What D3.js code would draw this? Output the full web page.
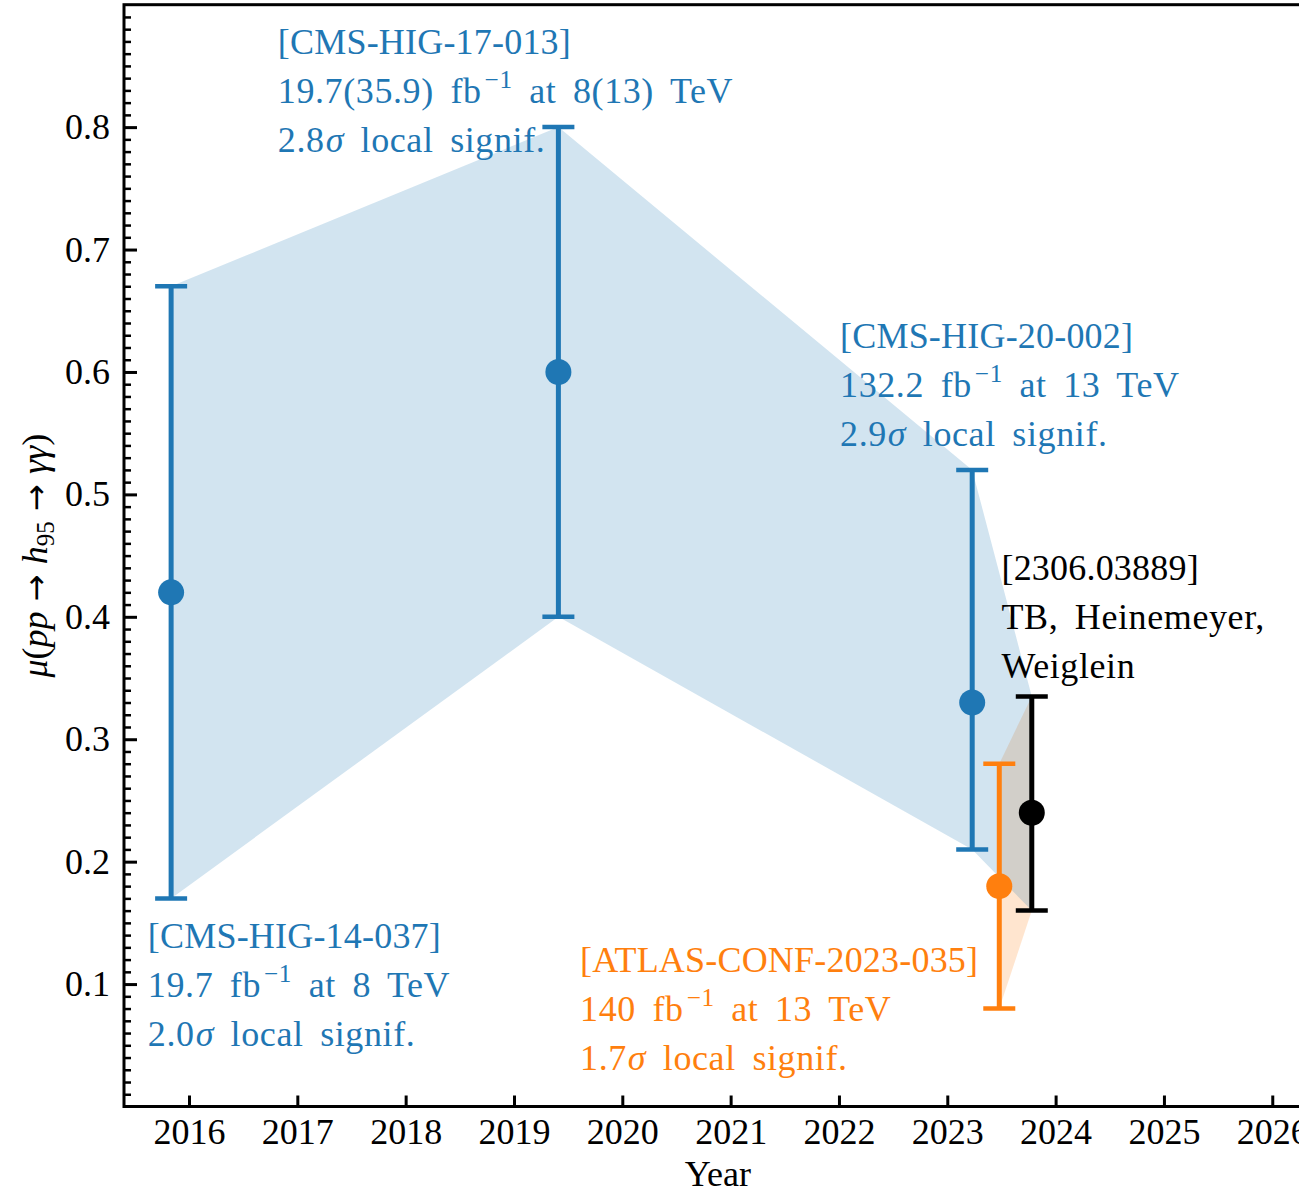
<!DOCTYPE html>
<html>
<head>
<meta charset="utf-8">
<script src="https://cdn.jsdelivr.net/npm/d3@7"></script>
<style>
  html, body { margin: 0; padding: 0; background: #fff; }
  svg { display: block; }
  text { font-family: "Liberation Serif", "DejaVu Serif", serif; }
</style>
</head>
<body>
<script>
// Measurements of the 95 GeV diphoton excess, signal strength vs. publication date
const labels   = ["CMS-HIG-14-037", "CMS-HIG-17-013", "CMS-HIG-20-002", "ATLAS-CONF-2023-035", "2306.03889"];
const years    = [2015.835, 2019.41, 2023.23, 2023.48, 2023.78];
const mu       = [0.42, 0.60, 0.33, 0.18, 0.24];
const muLow    = [0.17, 0.40, 0.21, 0.08, 0.16];
const muHigh   = [0.67, 0.80, 0.52, 0.28, 0.335];
const colors   = ["#1f77b4", "#1f77b4", "#1f77b4", "#ff7f0e", "#000000"];

// Shaded envelopes connecting the error bars (indices into the arrays above)
const blueBand   = [0, 1, 2, 4];
const orangeBand = [3, 4];

// Axis ticks
const xTicks      = [2016, 2017, 2018, 2019, 2020, 2021, 2022, 2023, 2024, 2025, 2026];
const yMajorTicks = [0.1, 0.2, 0.3, 0.4, 0.5, 0.6, 0.7, 0.8];
const yMinorTicks = d3.range(1, 90).filter(i => i % 10 !== 0).map(i => i / 100);

// Text annotations: anchor (year, value of first baseline) and lines.
// "^{..}" is a superscript, "σ" is set in italics.
const noteYears  = [2015.62, 2016.82, 2022.01, 2019.61, 2023.50];
const noteValues = [0.1295, 0.860, 0.6197, 0.1100, 0.4300];
const noteLines  = [
  ["[CMS-HIG-14-037]", "19.7 fb^{−1} at 8 TeV", "2.0σ local signif."],
  ["[CMS-HIG-17-013]", "19.7(35.9) fb^{−1} at 8(13) TeV", "2.8σ local signif."],
  ["[CMS-HIG-20-002]", "132.2 fb^{−1} at 13 TeV", "2.9σ local signif."],
  ["[ATLAS-CONF-2023-035]", "140 fb^{−1} at 13 TeV", "1.7σ local signif."],
  ["[2306.03889]", "TB, Heinemeyer,", "Weiglein"]
];
const noteColors = ["#1f77b4", "#1f77b4", "#1f77b4", "#ff7f0e", "#000000"];

const W = 1299, H = 1195;
const svg = d3.select("body").append("svg").attr("width", W).attr("height", H);

const x = d3.scaleLinear().domain([2015.4, 2026.4]).range([124, 1315.6]);
const y = d3.scaleLinear().domain([0, 0.9]).range([1106.5, 4.7]);

// --- bands ---
const area = d3.area()
  .x(i => x(years[i]))
  .y0(i => y(muLow[i]))
  .y1(i => y(muHigh[i]));

svg.append("path").attr("d", area(orangeBand))
  .attr("fill", "#ff7f0e").attr("fill-opacity", 0.2);
svg.append("path").attr("d", area(blueBand))
  .attr("fill", "#1f77b4").attr("fill-opacity", 0.2);

// --- error bars and markers ---
const capHalf = 16;
const pts = svg.append("g").selectAll("g").data(d3.range(years.length)).join("g")
  .attr("stroke", i => colors[i]).attr("fill", i => colors[i]);
pts.append("line")
  .attr("x1", i => x(years[i])).attr("x2", i => x(years[i]))
  .attr("y1", i => y(muLow[i])).attr("y2", i => y(muHigh[i]))
  .attr("stroke-width", 5);
pts.append("line")
  .attr("x1", i => x(years[i]) - capHalf).attr("x2", i => x(years[i]) + capHalf)
  .attr("y1", i => y(muLow[i])).attr("y2", i => y(muLow[i]))
  .attr("stroke-width", 4.5);
pts.append("line")
  .attr("x1", i => x(years[i]) - capHalf).attr("x2", i => x(years[i]) + capHalf)
  .attr("y1", i => y(muHigh[i])).attr("y2", i => y(muHigh[i]))
  .attr("stroke-width", 4.5);
pts.append("circle")
  .attr("cx", i => x(years[i])).attr("cy", i => y(mu[i])).attr("r", 13)
  .attr("stroke", "none");

// --- rich text helper ---
function writeRich(textSel, str, size) {
  const re = /(\^\{[^}]*\})|(σ)/g;
  let last = 0, m;
  const parts = [];
  while ((m = re.exec(str)) !== null) {
    if (m.index > last) parts.push({t: str.slice(last, m.index), k: "n"});
    if (m[1]) parts.push({t: m[1].slice(2, -1), k: "sup"});
    else parts.push({t: "σ", k: "it"});
    last = re.lastIndex;
  }
  if (last < str.length) parts.push({t: str.slice(last), k: "n"});
  let shifted = false;
  parts.forEach(p => {
    const ts = textSel.append("tspan").text(p.t);
    if (p.k === "sup") {
      ts.attr("font-size", size * 0.7).attr("dy", -size * 0.42).attr("dx", 3);
      shifted = true;
    } else {
      if (shifted) { ts.attr("dy", size * 0.42); shifted = false; }
      if (p.k === "it") ts.attr("font-style", "italic").attr("dx", 1);
    }
  });
}

// --- annotations ---
const fs = 36, lineGap = 49;
noteLines.forEach((lines, k) => {
  const g = svg.append("g").attr("fill", noteColors[k]);
  lines.forEach((ln, j) => {
    const t = g.append("text")
      .attr("x", x(noteYears[k]))
      .attr("y", y(noteValues[k]) + j * lineGap)
      .attr("font-size", fs)
      .attr("word-spacing", 7)
      .attr("letter-spacing", j === 0 ? 0.2 : 0.6)
      .style("white-space", "pre");
    writeRich(t, ln, fs);
  });
});

// --- axes ---
const xAxis = d3.axisBottom(x).tickValues(xTicks).tickFormat(d3.format("d"))
  .tickSizeInner(-11).tickSizeOuter(0).tickPadding(12);
const gx = svg.append("g").attr("transform", `translate(0,${y(0)})`).call(xAxis);
gx.select(".domain").remove();
gx.selectAll(".tick line").attr("stroke", "#000").attr("stroke-width", 3);
gx.selectAll(".tick text").attr("font-size", 36).attr("fill", "#000")
  .attr("font-family", "Liberation Serif, DejaVu Serif, serif");

const yAxis = d3.axisLeft(y).tickValues(yMajorTicks).tickFormat(d3.format(".1f"))
  .tickSizeInner(-13).tickSizeOuter(0).tickPadding(14);
const gy = svg.append("g").attr("transform", `translate(${x(2015.4)},0)`).call(yAxis);
gy.select(".domain").remove();
gy.selectAll(".tick line").attr("stroke", "#000").attr("stroke-width", 3);
gy.selectAll(".tick text").attr("font-size", 36).attr("fill", "#000")
  .attr("font-family", "Liberation Serif, DejaVu Serif, serif");

const yMinor = d3.axisLeft(y).tickValues(yMinorTicks).tickFormat("")
  .tickSizeInner(-7).tickSizeOuter(0);
const gym = svg.append("g").attr("transform", `translate(${x(2015.4)},0)`).call(yMinor);
gym.select(".domain").remove();
gym.selectAll(".tick line").attr("stroke", "#000").attr("stroke-width", 2.5);

// plot frame
svg.append("rect")
  .attr("x", x(2015.4)).attr("y", y(0.9))
  .attr("width", x(2026.4) - x(2015.4)).attr("height", y(0) - y(0.9))
  .attr("fill", "none").attr("stroke", "#000").attr("stroke-width", 3);

// axis titles
svg.append("text")
  .attr("x", (x(2015.4) + x(2026.4)) / 2 - 2).attr("y", 1186)
  .attr("text-anchor", "middle").attr("font-size", 36).attr("fill", "#000")
  .text("Year");

const yl = svg.append("text")
  .attr("transform", `translate(47,${(y(0) + y(0.9)) / 2}) rotate(-90)`)
  .attr("text-anchor", "middle").attr("font-size", 36).attr("fill", "#000");
const arrowFont = "DejaVu Sans, sans-serif";
yl.append("tspan").attr("font-style", "italic").text("μ");
yl.append("tspan").text("(");
yl.append("tspan").attr("font-style", "italic").text("pp");
yl.append("tspan").attr("font-family", arrowFont).attr("font-size", 32).text(" → ");
yl.append("tspan").attr("font-style", "italic").text("h");
yl.append("tspan").attr("font-size", 25).attr("dy", 7).text("95");
yl.append("tspan").attr("dy", -7).attr("font-family", arrowFont).attr("font-size", 32).text(" → ");
yl.append("tspan").attr("font-style", "italic").text("γγ");
yl.append("tspan").text(")");
</script>
</body>
</html>
